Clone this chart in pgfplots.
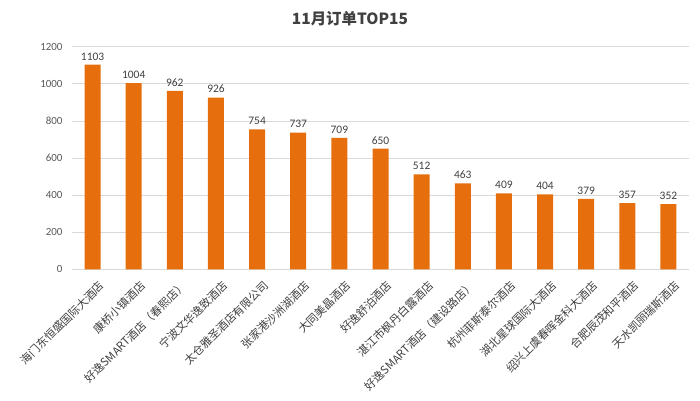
\documentclass[border=0pt]{standalone}
\usepackage{fontspec}
\setmainfont{Carlito}
\newfontfamily\cjk{Noto Sans CJK SC}
\usepackage{pgfplots}
\pgfplotsset{compat=1.18}
\definecolor{barc}{RGB}{230,110,12}
\definecolor{gridc}{RGB}{217,217,217}
\definecolor{txt}{RGB}{89,89,89}
\definecolor{lab}{RGB}{64,64,64}
\begin{document}
\begin{tikzpicture}[x=1bp,y=1bp]
\useasboundingbox (0,0) rectangle (700,400);
\node[font=\cjk\bfseries\fontsize{15.5}{15.5}\selectfont, text=lab] at (350,381) {11月订单TOP15};
\begin{axis}[
  at={(72bp,130.7bp)}, anchor=south west,
  scale only axis, width=617bp, height=222.6bp,
  xmin=-0.5, xmax=14.5, ymin=0, ymax=1200,
  ytick={0,200,...,1200},
  xtick={0,...,14},
  xticklabels={海门东恒盛国际大酒店,康桥小镇酒店,好逸SMART酒店（春熙店）,宁波文华逸致酒店,太仓雅圣酒店有限公司,张家港沙洲湖酒店,大同美晶酒店,好逸舒泊酒店,湛江市枫丹白露酒店,好逸SMART酒店（建设路店）,杭州菲斯泰尔酒店,湖北星球国际大酒店,绍兴上虞春晖金科大酒店,合肥辰茂和平酒店,天水凯丽瑞斯酒店},
  x tick label style={font=\cjk\fontsize{11.3}{11.3}\selectfont, text=lab, rotate=45, anchor=north east, inner sep=0pt, xshift=-3bp, yshift=-11bp},
  y tick label style={font=\fontsize{11}{11}\selectfont, text=txt},
  /pgf/number format/assume math mode=true,
  /pgf/number format/1000 sep={},
  ymajorgrids, grid style={gridc, line width=0.8pt},
  axis line style={draw=none},
  major tick length=0pt,
  yticklabel style={xshift=-6bp},
  nodes near coords,
  every node near coord/.append style={font=\fontsize{11.5}{11.5}\selectfont, text=lab, yshift=1bp},
  clip=false,
]
\addplot[ybar, bar width=16bp, fill=barc, draw=none] coordinates {
(0,1103) (1,1004) (2,962) (3,926) (4,754) (5,737) (6,709) (7,650) (8,512) (9,463) (10,409) (11,404) (12,379) (13,357) (14,352)
};
\end{axis}
\end{tikzpicture}
\end{document}
